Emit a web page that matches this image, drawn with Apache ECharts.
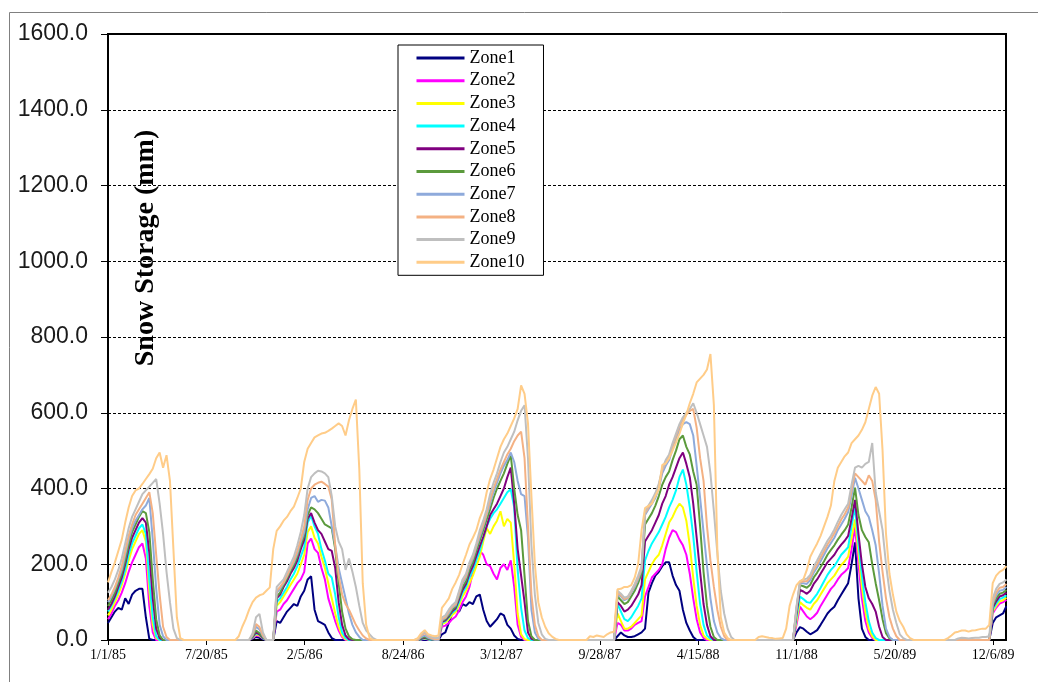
<!DOCTYPE html>
<html>
<head>
<meta charset="utf-8">
<script src="https://cdn.jsdelivr.net/npm/echarts@6/dist/echarts.min.js"></script>
<style>
  html, body { margin: 0; padding: 0; background: #ffffff; }
  #chart { width: 1038px; height: 682px; }
</style>
</head>
<body>
<div id="chart"></div>
<script>
// Simulated snow water storage per elevation zone, 1/1/85 - 1/1/90.
// Each zone is a list of runs: [first day after 1/1/85, weekly values in mm].
// Days between runs are snow free.
const SAMPLE_STEP_DAYS = 7;
const AXIS_END_DAY = 1826;          // 1/1/90
const TICK_STEP_DAYS = 200;

const zoneNames = ['Zone1', 'Zone2', 'Zone3', 'Zone4', 'Zone5', 'Zone6', 'Zone7', 'Zone8', 'Zone9', 'Zone10'];
const zoneColors = ['#000080', '#ff00ff', '#ffff00', '#00ffff', '#800080', '#5b9a3c', '#8eaadb', '#f4b183', '#bfbfbf', '#ffcc88'];

const zone1 = [
  [0, [45, 60, 75, 85, 80, 110, 95, 120, 130, 135, 135, 60, 3, 0]],
  [287, [0, 3, 8, 6, 2, 0, 0, 0, 50, 45, 60, 75, 85, 95, 90, 115, 130, 160, 168, 80, 50, 45, 40, 20, 5, 0]],
  [672, [0, 15, 20, 45, 70, 80, 75, 95, 90, 100, 95, 115, 120, 80, 50, 35, 45, 55, 70, 65, 40, 30, 12, 3, 0]],
  [1029, [0, 10, 20, 12, 8, 8, 10, 15, 20, 30, 125, 150, 170, 180, 195, 205, 205, 170, 145, 130, 80, 45, 25, 8, 0]],
  [1393, [0, 20, 34, 30, 22, 15, 20, 26, 40, 55, 70, 80, 88, 105, 120, 135, 150, 200, 258, 110, 30, 8, 0]],
  [1792, [0, 45, 60, 65, 70, 90]]
];
const zone2 = [
  [0, [55, 70, 90, 105, 125, 150, 180, 205, 225, 245, 255, 215, 90, 20, 0]],
  [287, [0, 5, 12, 10, 4, 0, 0, 0, 75, 80, 95, 105, 120, 135, 150, 160, 180, 255, 268, 240, 230, 190, 160, 110, 80, 50, 25, 8, 0]],
  [630, [0, 1, 3, 1, 0, 0, 0, 35, 38, 45, 55, 62, 78, 100, 115, 140, 180, 215, 235, 225, 200, 195, 175, 160, 190, 200, 185, 210, 140, 40, 8, 0]],
  [1029, [0, 45, 40, 25, 25, 30, 40, 45, 50, 115, 140, 165, 175, 185, 200, 240, 270, 290, 285, 265, 250, 225, 175, 110, 55, 20, 5, 0]],
  [1393, [0, 40, 88, 75, 62, 55, 62, 72, 90, 105, 120, 135, 145, 160, 172, 180, 190, 240, 298, 200, 110, 50, 20, 5, 0]],
  [1792, [0, 70, 85, 96, 100, 106]]
];
const zone3 = [
  [0, [65, 80, 100, 120, 145, 175, 210, 240, 260, 280, 290, 260, 130, 40, 5, 0]],
  [287, [0, 6, 15, 12, 5, 0, 0, 0, 90, 100, 115, 130, 145, 160, 175, 200, 225, 285, 300, 270, 255, 220, 190, 150, 110, 70, 35, 12, 2, 0]],
  [630, [0, 2, 4, 2, 0, 0, 0, 42, 46, 55, 66, 74, 92, 115, 130, 150, 170, 195, 220, 260, 295, 280, 300, 315, 340, 300, 320, 310, 200, 70, 15, 2, 0]],
  [1029, [0, 70, 50, 30, 30, 35, 45, 55, 65, 160, 180, 200, 215, 225, 250, 280, 310, 325, 345, 360, 350, 315, 250, 165, 90, 40, 12, 3, 0]],
  [1393, [0, 50, 100, 92, 85, 80, 95, 105, 120, 135, 150, 160, 170, 185, 198, 208, 220, 270, 318, 230, 140, 75, 30, 10, 0]],
  [1792, [0, 75, 90, 102, 105, 112]]
];
const zone4 = [
  [0, [75, 90, 110, 130, 155, 185, 225, 255, 275, 295, 305, 280, 160, 60, 10, 0]],
  [287, [0, 7, 18, 14, 5, 0, 0, 0, 100, 110, 125, 140, 160, 175, 195, 220, 245, 310, 328, 300, 280, 240, 210, 175, 165, 120, 60, 20, 5, 0]],
  [630, [0, 2, 5, 2, 0, 0, 0, 45, 50, 60, 72, 80, 100, 125, 140, 165, 185, 210, 235, 270, 300, 320, 335, 345, 360, 375, 390, 398, 350, 185, 85, 25, 5, 0]],
  [1029, [0, 95, 75, 55, 50, 60, 75, 90, 110, 210, 235, 255, 270, 285, 305, 325, 350, 370, 395, 430, 450, 410, 350, 275, 180, 95, 40, 12, 3, 0]],
  [1393, [0, 60, 115, 108, 100, 98, 110, 122, 138, 155, 172, 185, 195, 210, 225, 235, 245, 300, 352, 255, 170, 100, 50, 20, 5, 0]],
  [1792, [0, 80, 96, 108, 112, 118]]
];
const zone5 = [
  [0, [80, 95, 115, 140, 165, 200, 240, 270, 290, 310, 322, 310, 230, 110, 30, 5, 0]],
  [287, [0, 8, 20, 15, 6, 0, 0, 0, 110, 120, 140, 155, 175, 190, 210, 240, 265, 320, 335, 310, 290, 280, 260, 240, 235, 190, 100, 40, 12, 2, 0]],
  [630, [0, 3, 6, 3, 1, 0, 0, 48, 52, 62, 76, 84, 108, 132, 148, 175, 195, 222, 248, 272, 300, 330, 345, 360, 380, 400, 430, 455, 360, 240, 170, 100, 20, 3, 0]],
  [1029, [0, 100, 90, 75, 80, 90, 105, 120, 145, 260, 275, 290, 310, 330, 360, 380, 410, 430, 455, 480, 495, 465, 430, 360, 270, 180, 95, 40, 10, 0]],
  [1393, [0, 70, 132, 128, 122, 130, 148, 160, 175, 190, 205, 215, 225, 240, 252, 262, 275, 320, 370, 280, 200, 140, 110, 95, 75, 35, 8, 0]],
  [1792, [0, 85, 102, 115, 118, 125]]
];
const zone6 = [
  [0, [90, 105, 125, 150, 175, 210, 250, 285, 305, 325, 340, 335, 285, 160, 55, 12, 0]],
  [287, [0, 10, 25, 18, 7, 0, 0, 0, 115, 125, 145, 162, 182, 198, 220, 250, 275, 330, 350, 345, 335, 320, 305, 300, 295, 240, 150, 75, 30, 10, 2, 0]],
  [630, [0, 5, 8, 4, 2, 0, 0, 50, 55, 65, 80, 88, 115, 140, 155, 185, 205, 235, 262, 290, 318, 345, 375, 400, 420, 440, 465, 488, 400, 330, 290, 170, 50, 10, 0]],
  [1029, [0, 115, 105, 95, 100, 115, 130, 150, 175, 305, 320, 335, 355, 380, 410, 430, 445, 475, 500, 530, 540, 510, 490, 445, 410, 300, 180, 90, 35, 8, 0]],
  [1393, [0, 78, 145, 142, 138, 146, 165, 178, 193, 208, 225, 238, 250, 265, 278, 290, 305, 350, 402, 330, 290, 272, 258, 200, 150, 105, 55, 18, 4, 0]],
  [1792, [0, 90, 110, 122, 125, 132]]
];
const zone7 = [
  [0, [100, 115, 135, 160, 185, 225, 265, 295, 315, 330, 345, 355, 375, 265, 135, 40, 10, 0]],
  [287, [0, 12, 35, 28, 10, 0, 0, 0, 125, 135, 150, 168, 188, 205, 228, 258, 285, 345, 375, 380, 365, 370, 368, 350, 300, 250, 190, 150, 110, 70, 40, 20, 8, 0]],
  [630, [0, 8, 12, 6, 3, 0, 0, 52, 58, 70, 85, 92, 120, 150, 165, 195, 215, 245, 272, 300, 330, 360, 390, 415, 440, 460, 475, 495, 470, 420, 385, 380, 270, 80, 20, 3, 0]],
  [1029, [0, 120, 115, 105, 110, 125, 140, 160, 185, 330, 345, 360, 375, 400, 440, 460, 475, 505, 530, 555, 570, 575, 570, 540, 460, 375, 285, 195, 110, 50, 20, 5, 0]],
  [1393, [0, 82, 150, 150, 148, 158, 178, 192, 208, 225, 242, 256, 270, 290, 305, 320, 338, 380, 428, 400, 370, 340, 325, 290, 250, 175, 90, 30, 8, 0]],
  [1792, [0, 95, 118, 130, 132, 140]]
];
const zone8 = [
  [0, [105, 120, 140, 165, 195, 235, 275, 305, 330, 345, 360, 375, 390, 335, 225, 120, 35, 8, 0]],
  [287, [0, 14, 42, 34, 12, 0, 0, 0, 130, 140, 152, 170, 190, 210, 235, 265, 300, 370, 400, 410, 415, 418, 412, 405, 370, 250, 170, 120, 95, 80, 60, 40, 25, 12, 4, 0]],
  [630, [0, 12, 18, 10, 5, 2, 2, 55, 60, 75, 88, 95, 125, 155, 170, 200, 220, 250, 280, 305, 335, 370, 400, 425, 450, 470, 490, 505, 525, 540, 550, 480, 300, 120, 40, 10, 0]],
  [1029, [0, 125, 118, 108, 112, 128, 145, 165, 190, 335, 350, 365, 382, 408, 448, 470, 485, 515, 540, 565, 582, 595, 605, 610, 560, 480, 420, 300, 210, 140, 80, 35, 10, 0]],
  [1393, [0, 85, 152, 155, 155, 165, 185, 200, 218, 235, 252, 266, 282, 300, 318, 332, 350, 395, 440, 430, 420, 410, 435, 420, 370, 260, 180, 110, 60, 30, 10, 0]],
  [1792, [0, 100, 125, 138, 140, 148]]
];
const zone9 = [
  [0, [125, 140, 160, 185, 215, 255, 295, 325, 345, 365, 385, 395, 405, 415, 425, 360, 280, 180, 100, 30, 5, 0]],
  [287, [0, 18, 60, 69, 20, 0, 0, 0, 140, 150, 160, 180, 200, 220, 250, 285, 330, 400, 430, 440, 447, 445, 440, 430, 380, 300, 260, 240, 185, 215, 180, 140, 90, 45, 25, 15, 5, 0]],
  [623, [0, 3, 15, 22, 12, 8, 5, 5, 60, 65, 80, 92, 100, 130, 160, 175, 205, 225, 255, 290, 315, 345, 385, 415, 440, 470, 495, 510, 530, 550, 580, 605, 620, 480, 250, 120, 45, 15, 3, 0]],
  [1029, [0, 130, 122, 112, 115, 130, 148, 170, 195, 340, 355, 370, 388, 412, 452, 475, 490, 520, 545, 570, 588, 600, 610, 625, 600, 570, 540, 510, 440, 340, 230, 130, 70, 30, 8, 0]],
  [1393, [0, 88, 155, 160, 162, 172, 194, 210, 228, 245, 262, 275, 292, 312, 330, 345, 360, 410, 455, 460, 455, 465, 470, 520, 390, 340, 290, 200, 130, 80, 45, 15, 5, 0]],
  [1722, [0, 4, 6, 5, 4, 5, 6, 6, 8, 8, 10, 110, 135, 148, 152, 160]]
];
const zone10 = [
  [0, [152, 180, 205, 235, 265, 310, 350, 380, 395, 400, 412, 425, 438, 452, 480, 495, 455, 488, 420, 240, 60, 5, 0]],
  [259, [0, 10, 35, 55, 80, 100, 112, 118, 121, 130, 139, 240, 288, 300, 315, 325, 340, 352, 375, 400, 470, 505, 520, 535, 540, 545, 547, 552, 558, 565, 572, 565, 540, 580, 610, 635, 450, 150, 40, 5, 0]],
  [623, [0, 5, 18, 26, 15, 12, 10, 12, 85, 97, 110, 135, 152, 172, 200, 225, 252, 270, 290, 322, 345, 390, 425, 450, 480, 510, 530, 545, 565, 585, 610, 672, 650, 572, 380, 200, 100, 60, 35, 18, 9, 3, 0]],
  [973, [0, 10, 8, 12, 10, 8, 15, 20, 22, 134, 135, 140, 140, 145, 165, 200, 290, 348, 354, 360, 380, 398, 462, 466, 480, 500, 522, 545, 572, 595, 625, 650, 680, 690, 700, 714, 755, 620, 240, 60, 20, 5, 0]],
  [1316, [0, 8, 10, 8, 6, 5, 3, 4, 5, 30, 90, 120, 145, 155, 160, 185, 220, 238, 255, 275, 300, 325, 355, 420, 455, 470, 485, 495, 520, 530, 540, 555, 575, 610, 645, 668, 650, 500, 280, 175, 120, 75, 50, 35, 15, 5, 0]],
  [1701, [0, 5, 12, 20, 22, 25, 25, 22, 25, 26, 28, 30, 30, 40, 150, 170, 180, 185, 195]]
];

const zones = [zone1, zone2, zone3, zone4, zone5, zone6, zone7, zone8, zone9, zone10];

// Turn the runs into [day, value] pairs for a value x axis.
function runsToPoints(runs) {
  const pts = [];
  runs.forEach(([firstDay, values]) => {
    values.forEach((v, i) => pts.push([firstDay + i * SAMPLE_STEP_DAYS, v]));
  });
  return pts;
}

const EPOCH_MS = Date.UTC(1985, 0, 1);
function dayLabel(day) {
  if (day % TICK_STEP_DAYS !== 0) return '';
  const d = new Date(EPOCH_MS + day * 86400000);
  const yy = String(d.getUTCFullYear()).slice(2);
  return (d.getUTCMonth() + 1) + '/' + d.getUTCDate() + '/' + yy;
}

const chart = echarts.init(document.getElementById('chart'), null, { renderer: 'canvas' });

chart.setOption({
  animation: false,
  backgroundColor: '#ffffff',
  grid: {
    left: 108, right: 32, top: 34, bottom: 42,
    show: true, borderColor: '#000000', borderWidth: 2, backgroundColor: 'transparent'
  },
  legend: {
    data: zoneNames,
    orient: 'vertical',
    left: 398, top: 45,
    padding: [4, 19, 4, 17],
    itemWidth: 48, itemHeight: 14, itemGap: 4.7,
    backgroundColor: '#ffffff',
    borderColor: '#000000', borderWidth: 1,
    lineStyle: { width: 3 },
    itemStyle: { opacity: 0 },
    textStyle: { fontFamily: '"Liberation Serif", "Times New Roman", serif', fontSize: 18, lineHeight: 18, color: '#000000' }
  },
  xAxis: {
    type: 'value',
    min: 0, max: AXIS_END_DAY, interval: TICK_STEP_DAYS,
    axisLine: { show: true, lineStyle: { color: '#000000', width: 2 } },
    axisTick: { show: true, length: 5, lineStyle: { color: '#000000', width: 1 } },
    splitLine: { show: false },
    axisLabel: {
      formatter: dayLabel, margin: 8, showMaxLabel: false,
      fontFamily: '"Liberation Serif", "Times New Roman", serif', fontSize: 14, color: '#000000'
    }
  },
  yAxis: {
    type: 'value',
    min: 0, max: 1600, interval: 200,
    axisLine: { show: true, lineStyle: { color: '#000000', width: 2 } },
    axisTick: { show: true, length: 7, lineStyle: { color: '#000000', width: 1 } },
    splitLine: { show: true, lineStyle: { color: '#000000', width: 1, type: [3, 2] } },
    axisLabel: {
      formatter: v => v.toFixed(1), margin: 20,
      fontFamily: '"Liberation Sans", Arial, sans-serif', fontSize: 23, color: '#1a1a1a'
    }
  },
  graphic: [
    {
      type: 'rect', silent: true, z: -10,
      shape: { x: 9.5, y: 12.5, width: 1060, height: 700 },
      style: { fill: 'none', stroke: '#808080', lineWidth: 1 }
    },
    {
      type: 'text', silent: true,
      x: 146, y: 248, rotation: Math.PI / 2,
      style: {
        text: 'Snow Storage (mm)',
        font: 'bold 28px "Liberation Serif", "Times New Roman", serif',
        fill: '#000000', align: 'center', verticalAlign: 'middle'
      }
    }
  ],
  series: zones.map((runs, i) => ({
    name: zoneNames[i],
    type: 'line',
    symbol: 'none',
    data: runsToPoints(runs),
    lineStyle: { color: zoneColors[i], width: 2 },
    itemStyle: { color: zoneColors[i] },
    emphasis: { disabled: true }
  }))
});
</script>
</body>
</html>
